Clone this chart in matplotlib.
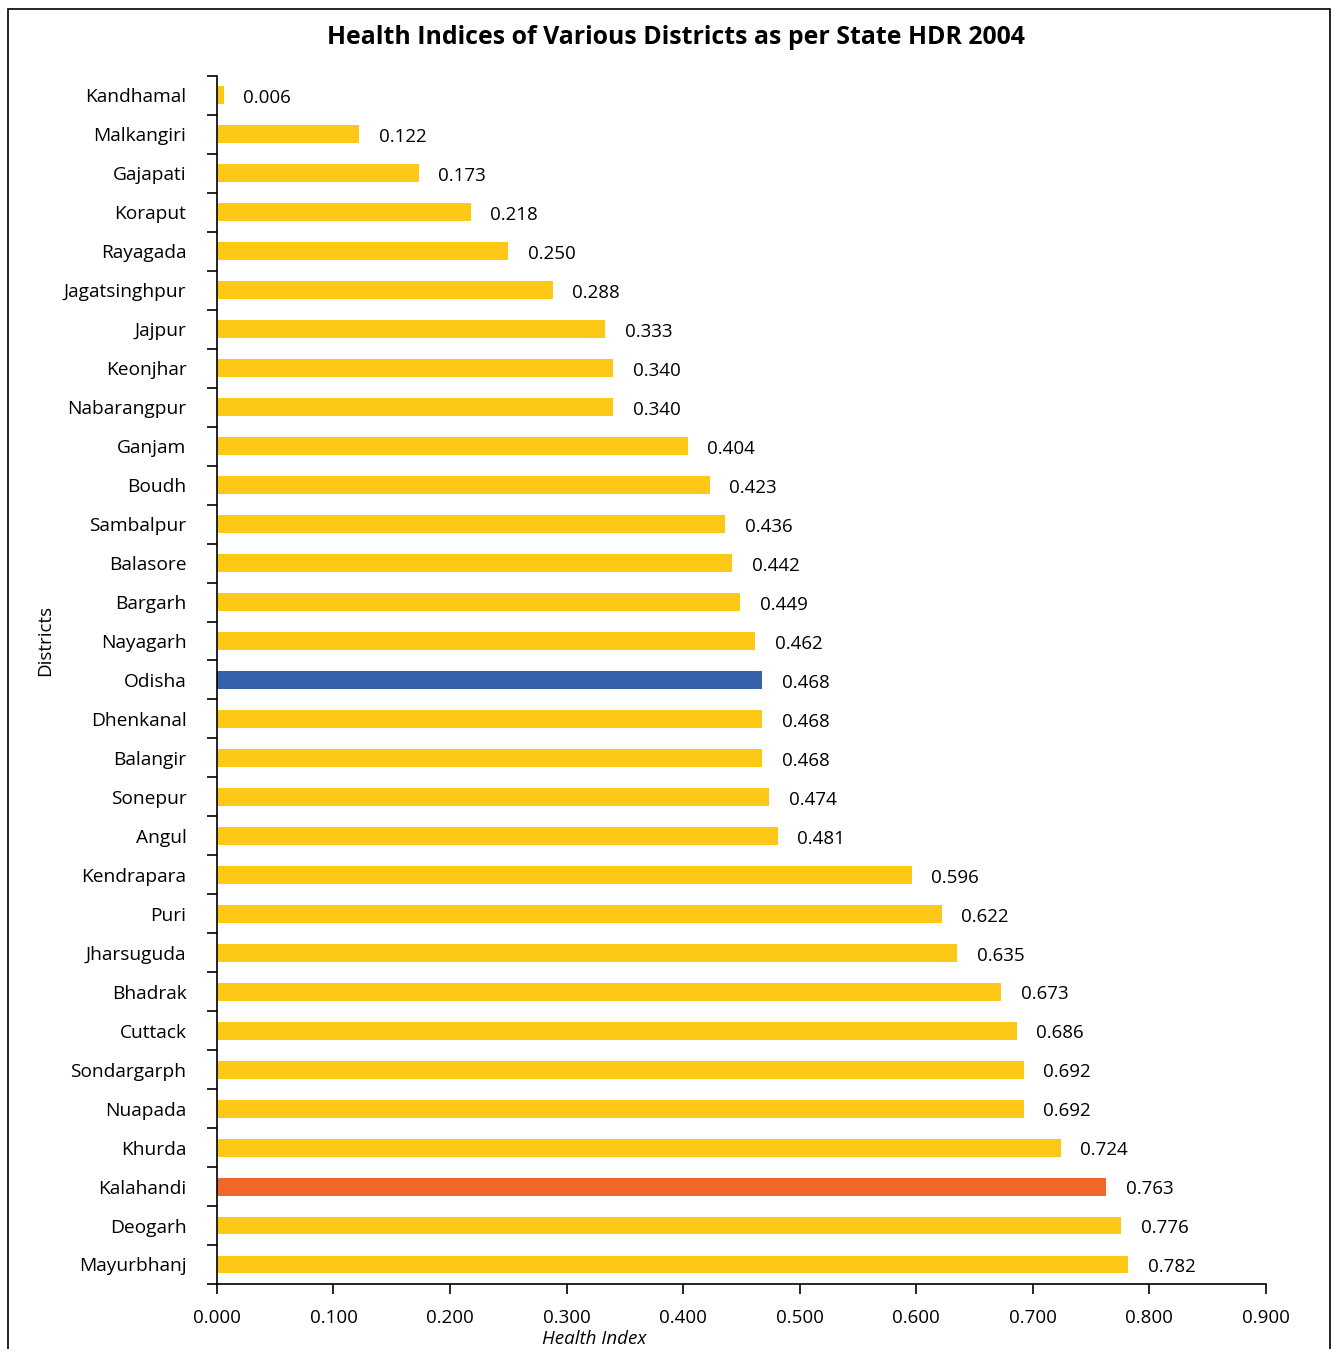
import matplotlib
matplotlib.use('Agg')
import matplotlib.pyplot as plt
from matplotlib.patches import Rectangle

plt.rcParams['font.family'] = ['Open Sans', 'DejaVu Sans']

districts = ['Kandhamal', 'Malkangiri', 'Gajapati', 'Koraput', 'Rayagada',
             'Jagatsinghpur', 'Jajpur', 'Keonjhar', 'Nabarangpur', 'Ganjam',
             'Boudh', 'Sambalpur', 'Balasore', 'Bargarh', 'Nayagarh', 'Odisha',
             'Dhenkanal', 'Balangir', 'Sonepur', 'Angul', 'Kendrapara', 'Puri',
             'Jharsuguda', 'Bhadrak', 'Cuttack', 'Sondargarph', 'Nuapada',
             'Khurda', 'Kalahandi', 'Deogarh', 'Mayurbhanj']
health_index = [0.006, 0.122, 0.173, 0.218, 0.250, 0.288, 0.333, 0.340, 0.340,
                0.404, 0.423, 0.436, 0.442, 0.449, 0.462, 0.468, 0.468, 0.468,
                0.474, 0.481, 0.596, 0.622, 0.635, 0.673, 0.686, 0.692, 0.692,
                0.724, 0.763, 0.776, 0.782]
xticks = [0.0, 0.1, 0.2, 0.3, 0.4, 0.5, 0.6, 0.7, 0.8, 0.9]

YELLOW, BLUE, ORANGE = '#FDC816', '#3560AA', '#F1672A'
highlight = {'Odisha': BLUE, 'Kalahandi': ORANGE}
colors = [highlight.get(d, YELLOW) for d in districts]

fig = plt.figure(figsize=(13.35, 13.49), dpi=100)
ax = fig.add_axes([0.1625, 0.0482, 0.7858, 0.8955])

pos = list(range(len(districts)))
ax.barh(pos, health_index, height=0.46, color=colors)
for y, v in zip(pos, health_index):
    ax.annotate(f'{v:.3f}', (v, y), xytext=(14, -2), textcoords='offset points',
                va='center', ha='left', fontsize=13.5)

ax.set_ylim(len(districts) - 0.5, -0.5)
ax.set_xlim(0, 0.9)
# ticks between categories, labels centred on the bars
ax.set_yticks([p - 0.5 for p in pos] + [len(pos) - 0.5])
ax.set_yticklabels([])
ax.set_yticks(pos, minor=True)
ax.set_yticklabels(districts, minor=True, fontsize=13.8)
ax.tick_params(axis='y', which='minor', length=0, pad=22)
ax.tick_params(axis='y', which='major', length=7, width=1.2, direction='out')
ax.set_xticks(xticks)
ax.set_xticklabels([f'{t:.3f}' for t in xticks], fontsize=13.5)
ax.tick_params(axis='x', length=7, width=1.2, direction='out', pad=11)
for s in ('top', 'right'):
    ax.spines[s].set_visible(False)
for s in ('left', 'bottom'):
    ax.spines[s].set_linewidth(1.2)

ax.set_xlabel('Health Index', fontsize=13.5, style='italic', va='center')
ax.xaxis.set_label_coords(0.36, -0.0455)
ax.set_ylabel('Districts', fontsize=13.5, va='center')
ax.yaxis.set_label_coords(-0.164, 0.533)

fig.text(0.506, 0.972, 'Health Indices of Various Districts as per State HDR 2004',
         ha='center', va='center', fontsize=17.9, fontweight='bold')
fig.patches.append(Rectangle((0.006, -0.01), 0.9905, 1.0033, transform=fig.transFigure,
                             fill=False, lw=1.2, ec='black'))

fig.savefig('out.png', dpi=100)
